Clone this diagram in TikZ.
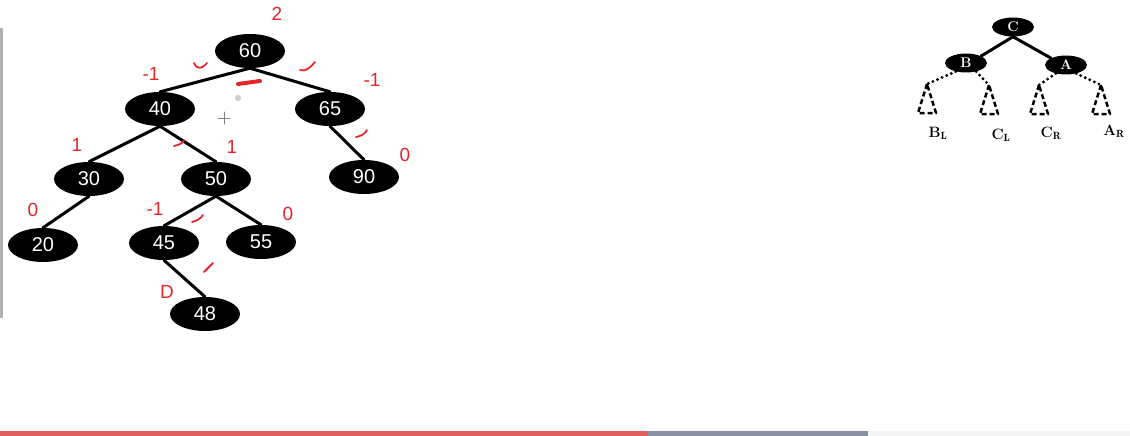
\documentclass[tikz,border=0pt]{standalone}
\usepackage{amsmath}
\usepackage{fontspec}
\setsansfont{Liberation Sans}
\usepackage{tikz}
\usetikzlibrary{shapes.geometric}

\definecolor{pen}{HTML}{E3262A}
\definecolor{barred}{HTML}{E06060}
\definecolor{bargray}{HTML}{8A90A0}

\begin{document}
\begin{tikzpicture}[
  x=1pt,y=-1pt,
  line cap=round,
  line join=round,
  bst/.style={ellipse,fill=black,text=white,inner sep=0pt,
    minimum width=70pt,minimum height=34pt,
    font=\sffamily\fontsize{20}{20}\selectfont},
  small/.style={ellipse,fill=black,text=white,inner sep=0pt,
    minimum width=42pt,minimum height=19pt,
    font=\bfseries\fontsize{14}{14}\selectfont},
  edge/.style={draw=black,line width=3pt},
  dots/.style={draw=black,line width=3.2pt,dash pattern=on 0pt off 5pt},
  dtri/.style={draw=black,line width=2.5pt,line cap=butt,dash pattern=on 5pt off 3pt},
  sub/.style={font=\bfseries\fontsize{15}{15}\selectfont},
  hand/.style={text=pen,font=\sffamily\fontsize{19}{19}\selectfont,inner sep=0pt},
  tick/.style={draw=pen,line width=1.8pt}
]
\useasboundingbox (0,0) rectangle (1130,436);

% left border of the slide
\fill[gray!60] (0,28) rectangle (3,318);

% Left: AVL tree
\node[bst] (n60) at (250,51) {60};
\node[bst] (n40) at (160,109) {40};
\node[bst] (n65) at (330,109) {65};
\node[bst] (n30) at (89,179) {30};
\node[bst] (n50) at (216,179) {50};
\node[bst] (n90) at (364,177) {90};
\node[bst] (n20) at (43,245) {20};
\node[bst] (n45) at (164,243) {45};
\node[bst] (n55) at (261,242) {55};
\node[bst] (n48) at (205,314) {48};

\draw[edge] (n60.south) -- (n40.north);
\draw[edge] (n60.south) -- (n65.north);
\draw[edge] (n40.south) -- (n30.north);
\draw[edge] (n40.south) -- (n50.north);
\draw[edge] (n65.south) -- (n90.north);
\draw[edge] (n30.south) -- (n20.north);
\draw[edge] (n50.south) -- (n45.north);
\draw[edge] (n50.south) -- (n55.north);
\draw[edge] (n45.south) -- (n48.north);

% handwritten balance factors
\node[hand] (b60) at (277,14) {2};
\node[hand] (b40) at (151,74) {-1};
\node[hand] (b65) at (372,80) {-1};
\node[hand] (b30) at (77,145) {1};
\node[hand] (b50) at (232,147) {1};
\node[hand] (b90) at (405,155) {0};
\node[hand] (b20) at (33,210) {0};
\node[hand] (b45) at (155,209) {-1};
\node[hand] (b55) at (288,214) {0};
\node[hand] (b48) at (167,292) {D};

% ticks
\draw[tick] (194,63) .. controls (197,70) and (202,69) .. (207,63);
\draw[tick] (300,70) .. controls (305,72) and (310,68) .. (315,62);
\draw[tick] (174,146) .. controls (180,145) and (184,142) .. (184,140);
\draw[tick] (356,137) .. controls (361,136) and (365,134) .. (367,130);
\draw[tick] (192,222) .. controls (197,221) and (201,218) .. (203,215);
\draw[tick] (204,272) -- (213,263);
\draw[draw=pen,line width=4pt] (238,84) -- (260,81);

% cursor
\fill[gray!40] (238,98) circle [radius=3];
\draw[gray,line width=1pt] (218,118) -- (230,118) (224,112) -- (224,124);

% Right: rotation scheme
\node[small] (nc) at (1013,27) {C};
\node[small] (nb) at (966,63) {B};
\node[small] (na) at (1066,65) {A};
\draw[edge] (nc.south) -- (nb.north east);
\draw[edge] (nc.south) -- (na.north west);

\coordinate (tbl) at (927,84);
\coordinate (tcl) at (989,85);
\coordinate (tcr) at (1039,85);
\coordinate (tar) at (1101,85);
\draw[dots] (nb.-140) -- (tbl);
\draw[dots] (nb.-40) -- (tcl);
\draw[dots] (na.-140) -- (tcr);
\draw[dots] (na.-40) -- (tar);
\foreach \t in {tbl,tcl,tcr,tar}
  \draw[dtri] (\t) -- ++(-9,29) -- ++(18,0) -- cycle;

\node[sub] (lbl) at (938,133) {B$_{\mathbf{L}}$};
\node[sub] (lcl) at (1001,135) {C$_{\mathbf{L}}$};
\node[sub] (lcr) at (1051,133) {C$_{\mathbf{R}}$};
\node[sub] (lar) at (1114,131) {A$_{\mathbf{R}}$};

% progress bar
\fill[barred] (0,431) rectangle (648,436);
\fill[bargray] (648,431) rectangle (868,436);
\fill[gray!8] (868,431) rectangle (1130,436);
\end{tikzpicture}
\end{document}
